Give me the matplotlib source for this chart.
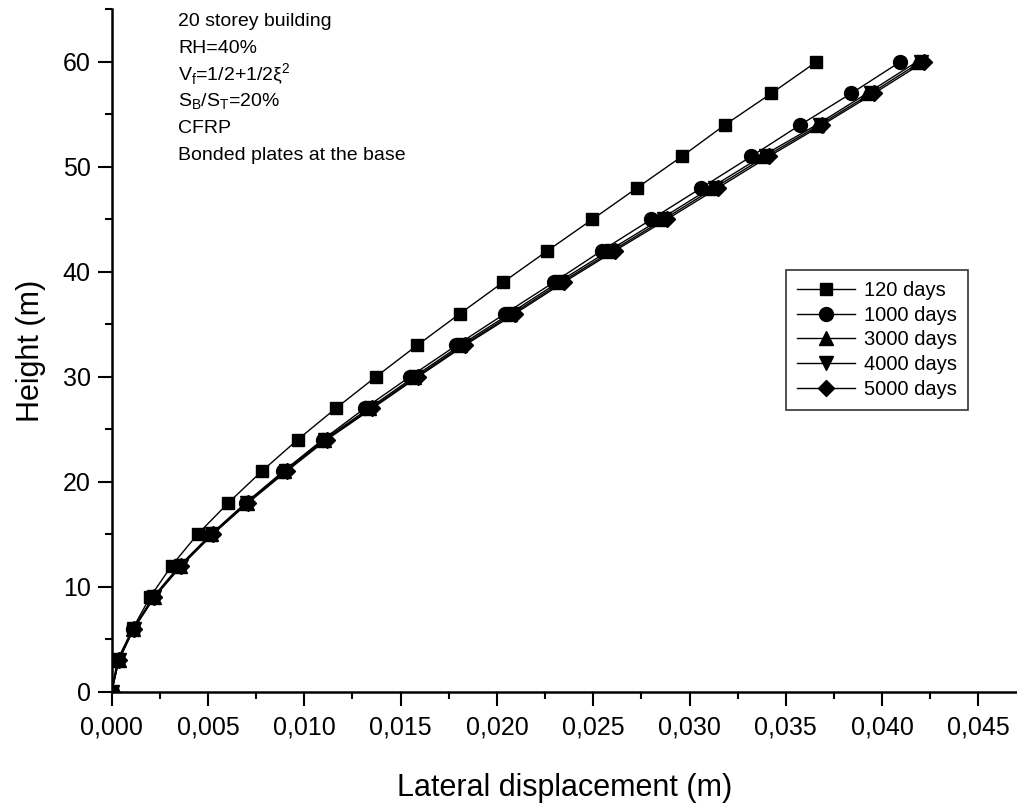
import numpy as np
import matplotlib
matplotlib.use('Agg')
from matplotlib import pyplot as plt
from matplotlib.ticker import MultipleLocator, FuncFormatter

plt.rcParams['font.family'] = ['Liberation Sans', 'DejaVu Sans']
plt.rcParams['mathtext.fontset'] = 'custom'
plt.rcParams['mathtext.rm'] = 'Liberation Sans'

height = [0, 3, 6, 9, 12, 15, 18, 21, 24, 27, 30, 33, 36, 39, 42, 45, 48, 51, 54, 57, 60]

d120 = [0, 0.00029, 0.00109, 0.00199, 0.00311, 0.00446, 0.00606, 0.00779, 0.00965, 0.01164,
        0.01372, 0.01586, 0.01807, 0.02032, 0.02262, 0.02496, 0.02728, 0.02961, 0.03184, 0.03425, 0.03659]
d1000 = [0, 0.00035, 0.00112, 0.00214, 0.00352, 0.00515, 0.00696, 0.00891, 0.01095, 0.01314,
         0.01548, 0.01790, 0.02041, 0.02295, 0.02543, 0.02802, 0.03062, 0.03321, 0.03575, 0.03840, 0.04094]
d3000 = [0, 0.00036, 0.00113, 0.00218, 0.00356, 0.00518, 0.00700, 0.00897, 0.01102, 0.01336,
         0.01570, 0.01810, 0.02066, 0.02318, 0.02580, 0.02848, 0.03110, 0.03375, 0.03660, 0.03922, 0.04180]
d4000 = [0, 0.00037, 0.00114, 0.00220, 0.00359, 0.00522, 0.00705, 0.00903, 0.01110, 0.01346,
         0.01582, 0.01823, 0.02081, 0.02334, 0.02598, 0.02867, 0.03130, 0.03396, 0.03676, 0.03942, 0.04200]
d5000 = [0, 0.00037, 0.00115, 0.00222, 0.00362, 0.00525, 0.00709, 0.00908, 0.01116, 0.01354,
         0.01591, 0.01833, 0.02093, 0.02347, 0.02612, 0.02883, 0.03148, 0.03413, 0.03690, 0.03958, 0.04218]

series = [('120 days', d120, 's', 9),
          ('1000 days', d1000, 'o', 10),
          ('3000 days', d3000, '^', 10),
          ('4000 days', d4000, 'v', 10),
          ('5000 days', d5000, 'D', 8)]

notes = ['20 storey building', 'RH=40%',
         r'V$_\mathregular{f}$=1/2+1/2ξ$^\mathregular{2}$',
         r'S$_\mathregular{B}$/S$_\mathregular{T}$=20%',
         'CFRP', 'Bonded plates at the base']

fig = plt.figure(figsize=(10.17, 8.05), dpi=100)
ax = fig.add_axes([0.1098, 0.1407, 0.8902, 0.8477])

for name, vals, mk, ms in series:
    ax.plot(vals, height, color='black', lw=1, marker=mk, ms=ms, label=name)

ax.set_xlim(0, 0.047)
ax.set_ylim(0, 65)
ax.spines['top'].set_visible(False)
ax.spines['right'].set_visible(False)
ax.spines['left'].set_linewidth(1.8)
ax.spines['bottom'].set_linewidth(1.8)

ax.xaxis.set_major_locator(MultipleLocator(0.005))
ax.xaxis.set_minor_locator(MultipleLocator(0.0025))
ax.yaxis.set_major_locator(MultipleLocator(10))
ax.yaxis.set_minor_locator(MultipleLocator(5))
ax.xaxis.set_major_formatter(FuncFormatter(lambda v, p: ('%.3f' % v).replace('.', ',')))
ax.tick_params(which='major', length=10, width=1.5, labelsize=18, direction='out')
ax.tick_params(which='minor', length=5, width=1.5, direction='out')
ax.tick_params(axis='x', which='major', pad=7)
ax.tick_params(axis='y', which='major', pad=5)

ax.set_xlabel('Lateral displacement (m)', fontsize=22, labelpad=24)
ax.set_ylabel('Height (m)', fontsize=22, labelpad=12)

for i, t in enumerate(notes):
    fig.text(178/1017, 1 - (22 + i*26.6)/805, t, fontsize=14, va='center', ha='left')

leg = ax.legend(loc='upper left', bbox_to_anchor=(786/1017, 1 - 270/805),
                bbox_transform=fig.transFigure, fontsize=14.5, frameon=True, fancybox=False,
                edgecolor='black', handlelength=2.9, handletextpad=0.4, labelspacing=0.28,
                borderaxespad=0, borderpad=0.55)
leg.get_frame().set_linewidth(1.2)

fig.savefig('out.png', dpi=100)
